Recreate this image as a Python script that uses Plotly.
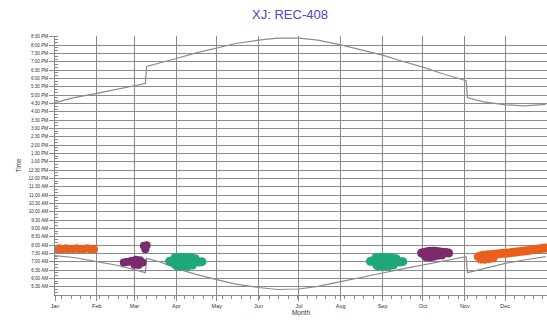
import plotly.graph_objects as go

# ---------------- data ----------------
sunset_dates = ["2013-01-01", "2013-01-15", "2013-02-01", "2013-02-15", "2013-03-01",
                "2013-03-09", "2013-03-10", "2013-03-20", "2013-04-01", "2013-04-15",
                "2013-05-01", "2013-05-15", "2013-06-01", "2013-06-15", "2013-07-01",
                "2013-07-15", "2013-08-01", "2013-08-15", "2013-09-01", "2013-09-15",
                "2013-10-01", "2013-10-15", "2013-11-02", "2013-11-03", "2013-11-15",
                "2013-12-01", "2013-12-15", "2013-12-31"]
sunset_hours = [16.55, 16.85, 17.1, 17.35, 17.58,
                17.7, 18.72, 18.92, 19.2, 19.52,
                19.85, 20.1, 20.3, 20.42, 20.42,
                20.3, 20.02, 19.75, 19.4, 19.05,
                18.68, 18.3, 17.86, 16.85, 16.6,
                16.42, 16.36, 16.45]

sunrise_dates = ["2013-01-01", "2013-01-15", "2013-02-01", "2013-02-15", "2013-03-01",
                 "2013-03-09", "2013-03-10", "2013-03-20", "2013-04-01", "2013-04-15",
                 "2013-05-01", "2013-05-15", "2013-06-01", "2013-06-15", "2013-07-01",
                 "2013-07-15", "2013-08-01", "2013-08-15", "2013-09-01", "2013-09-15",
                 "2013-10-01", "2013-10-15", "2013-11-02", "2013-11-03", "2013-11-15",
                 "2013-12-01", "2013-12-15", "2013-12-31"]
sunrise_hours = [7.36, 7.25, 7.0, 6.8, 6.52,
                 6.34, 7.2, 6.98, 6.6, 6.25,
                 5.92, 5.65, 5.45, 5.33, 5.36,
                 5.52, 5.8, 6.05, 6.32, 6.55,
                 6.8, 7.02, 7.3, 6.34, 6.6,
                 6.9, 7.1, 7.3]

# orange cluster, January
jan_dates = ["2013-01-03", "2013-01-04", "2013-01-05", "2013-01-07", "2013-01-09",
             "2013-01-11", "2013-01-13", "2013-01-15", "2013-01-17", "2013-01-19",
             "2013-01-21", "2013-01-23", "2013-01-25", "2013-01-27", "2013-01-29",
             "2013-01-30"]
jan_hours = [7.72, 7.8, 7.76, 7.75, 7.8, 7.74, 7.78, 7.76, 7.8, 7.74, 7.78,
             7.76, 7.8, 7.75, 7.77, 7.74]

# purple clusters, late Feb / early March
mar_dates = ["2013-02-21", "2013-02-23", "2013-02-25", "2013-02-27", "2013-03-01",
             "2013-03-02", "2013-03-04", "2013-03-05", "2013-03-07",
             "2013-03-08", "2013-03-09", "2013-03-10"]
mar_hours = [6.95, 6.98, 7.0, 7.05, 6.82, 7.12, 6.8, 7.08, 6.95,
             7.95, 7.75, 7.98]

# green cluster, April
apr_dates = ["2013-03-27", "2013-03-29", "2013-03-31", "2013-04-02", "2013-04-04",
             "2013-04-06", "2013-04-08", "2013-04-10", "2013-04-12", "2013-04-14",
             "2013-04-16", "2013-04-18", "2013-04-20",
             "2013-03-31", "2013-04-03", "2013-04-06", "2013-04-09", "2013-04-12",
             "2013-04-15",
             "2013-04-01", "2013-04-04", "2013-04-07", "2013-04-10", "2013-04-13"]
apr_hours = [7.02, 7.0, 7.02, 6.98, 7.0, 7.02, 6.98, 7.0, 7.0, 6.98, 7.0, 6.98, 7.0,
             7.24, 7.26, 7.25, 7.25, 7.22, 7.18,
             6.76, 6.74, 6.75, 6.76, 6.8]

# green cluster, September
sep_dates = ["2013-08-23", "2013-08-25", "2013-08-27", "2013-08-29", "2013-08-31",
             "2013-09-02", "2013-09-04", "2013-09-06", "2013-09-08", "2013-09-10",
             "2013-09-12", "2013-09-14", "2013-09-16",
             "2013-08-27", "2013-08-30", "2013-09-02", "2013-09-05", "2013-09-08",
             "2013-09-11",
             "2013-08-28", "2013-08-31", "2013-09-03", "2013-09-06", "2013-09-09"]
sep_hours = [7.02, 7.0, 7.02, 6.98, 7.0, 7.02, 6.98, 7.0, 7.0, 6.98, 7.0, 6.98, 7.0,
             7.24, 7.26, 7.25, 7.25, 7.22, 7.18,
             6.76, 6.74, 6.75, 6.76, 6.8]

# purple cluster, October
oct_dates = ["2013-09-30", "2013-10-02", "2013-10-04", "2013-10-06", "2013-10-08",
             "2013-10-10", "2013-10-12", "2013-10-14", "2013-10-16", "2013-10-18",
             "2013-10-20",
             "2013-10-03", "2013-10-06", "2013-10-09", "2013-10-12", "2013-10-15"]
oct_hours = [7.52, 7.55, 7.6, 7.62, 7.62, 7.62, 7.6, 7.58, 7.55, 7.55, 7.52,
             7.3, 7.28, 7.32, 7.38, 7.4]

# orange cluster, mid Nov to Dec
dec_dates = ["2013-11-11", "2013-11-13", "2013-11-15", "2013-11-17", "2013-11-19",
             "2013-11-21", "2013-11-23", "2013-11-25", "2013-11-27", "2013-11-29",
             "2013-12-01", "2013-12-03", "2013-12-05", "2013-12-07", "2013-12-09",
             "2013-12-11", "2013-12-13", "2013-12-15", "2013-12-17", "2013-12-19",
             "2013-12-21", "2013-12-23", "2013-12-25", "2013-12-27", "2013-12-29",
             "2013-12-31",
             "2013-11-13", "2013-11-16", "2013-11-19", "2013-11-22"]
dec_hours = [7.3, 7.35, 7.38, 7.4, 7.41, 7.42, 7.44, 7.46, 7.48, 7.5,
             7.51, 7.52, 7.54, 7.56, 7.58, 7.6, 7.62, 7.64, 7.66, 7.68,
             7.71, 7.73, 7.75, 7.78, 7.8, 7.82,
             7.15, 7.14, 7.18, 7.22]

# tick labels
tick_hours = [5.5 + 0.5 * i for i in range(31)]


def fmt(h):
    hh = int(h)
    mm = int(round((h - hh) * 60))
    suffix = "AM" if hh < 12 else "PM"
    h12 = hh % 12
    if h12 == 0:
        h12 = 12
    return f"{h12}:{mm:02d} {suffix}"


tick_text = [fmt(h) for h in tick_hours]

ORANGE = "#e8601c"
PURPLE = "#7b2a6c"
GREEN = "#1fa878"
LINE = "#8c8c8c"

fig = go.Figure()
fig.add_trace(go.Scatter(x=sunset_dates, y=sunset_hours, mode="lines",
                         line=dict(color=LINE, width=1.2), showlegend=False))
fig.add_trace(go.Scatter(x=sunrise_dates, y=sunrise_hours, mode="lines",
                         line=dict(color=LINE, width=1.2), showlegend=False))

for dts, hrs, col, sz in [(jan_dates, jan_hours, ORANGE, 8),
                          (mar_dates, mar_hours, PURPLE, 8),
                          (apr_dates, apr_hours, GREEN, 9),
                          (sep_dates, sep_hours, GREEN, 9),
                          (oct_dates, oct_hours, PURPLE, 9),
                          (dec_dates, dec_hours, ORANGE, 9)]:
    fig.add_trace(go.Scatter(x=dts, y=hrs, mode="markers",
                             marker=dict(color=col, size=sz, line=dict(width=0)),
                             showlegend=False))

fig.update_layout(
    width=547, height=320,
    margin=dict(l=55, r=0, t=36, b=25),
    paper_bgcolor="white", plot_bgcolor="white",
    font=dict(family="Liberation Sans, Arial, sans-serif", color="#333333"),
    title=dict(text="XJ: REC-408", x=290 / 547, xanchor="center",
               y=1 - 14 / 320, yanchor="middle", yref="container",
               font=dict(size=13, color="#4848cc")),
)

fig.update_xaxes(
    type="date", range=["2013-01-01", "2014-01-01"],
    tick0="2013-01-01", dtick="M1", tickformat="%b",
    showgrid=True, gridcolor="#8a8a8a", gridwidth=1,
    ticks="outside", ticklen=5, tickcolor="#8a8a8a",
    minor=dict(dtick=7 * 86400000, ticks="outside", ticklen=3,
               tickcolor="#8a8a8a", showgrid=False),
    showline=True, linecolor="#8a8a8a", linewidth=1,
    tickfont=dict(size=5.5, color="#333333"),
    title=dict(text="Month", font=dict(size=6.5, color="#333333"), standoff=0),
    automargin=False, zeroline=False,
)

fig.update_yaxes(
    range=[5.0, 20.55],
    tickvals=tick_hours, ticktext=tick_text,
    showgrid=True, gridcolor="#8a8a8a", gridwidth=1,
    ticks="outside", ticklen=5, tickcolor="#8a8a8a",
    minor=dict(dtick=1 / 6, tick0=5.5, ticks="inside", ticklen=3,
               tickcolor="#8a8a8a", showgrid=False),
    showline=True, linecolor="#8a8a8a", linewidth=1,
    tickfont=dict(size=4.6, color="#333333"),
    title=dict(text="Time", font=dict(size=6.5, color="#333333"), standoff=6),
    automargin=False, zeroline=False,
)

fig.write_html("out.html", config={"displayModeBar": False},
               post_script="document.body.style.margin='0';")
